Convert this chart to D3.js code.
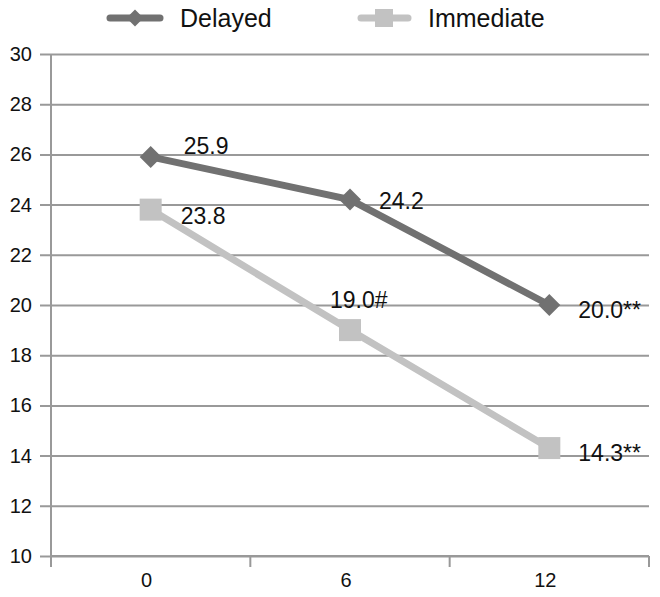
<!DOCTYPE html>
<html>
<head>
<meta charset="utf-8">
<script src="https://cdn.jsdelivr.net/npm/d3@7"></script>
<style>
  body { margin: 0; background: #fff; }
  text { font-family: "Liberation Sans", Arial, Helvetica, sans-serif; fill: #111; }
</style>
</head>
<body>
<svg id="chart"></svg>
<script>
// data
var months = ['0', '6', '12'];
var delayed = [25.9, 24.2, 20.0];
var immediate = [23.8, 19.0, 14.3];
var delayedLabels = ['25.9', '24.2', '20.0**'];
var immediateLabels = ['23.8', '19.0#', '14.3**'];
var yTicks = [10, 12, 14, 16, 18, 20, 22, 24, 26, 28, 30];

var darkGray = '#717171';
var lightGray = '#c2c2c2';
var gridColor = '#999999';

function drawChart() {
  var width = 660, height = 597;
  var chart = d3.select('#chart')
    .attr('width', width)
    .attr('height', height);

  var left = 51, right = 649, top = 54, bottom = 556;

  var x = d3.scaleBand()
    .domain(months)
    .range([left, right]);

  var y = d3.scaleLinear()
    .domain([10, 30])
    .range([bottom, top]);

  // horizontal grid + y ticks
  chart.append('g')
    .attr('transform', `translate(${left},0)`)
    .call(d3.axisLeft(y).tickValues(yTicks).tickSize(-(right - left)).tickSizeOuter(0))
    .call(g => g.select('.domain').remove())
    .call(g => g.selectAll('.tick line')
      .attr('x1', -11)
      .attr('stroke', gridColor)
      .attr('stroke-width', 2))
    .call(g => g.selectAll('.tick text')
      .attr('x', -19)
      .attr('fill', '#111')
      .style('font-size', '20px'));

  // y axis line
  chart.append('line')
    .attr('x1', left).attr('x2', left)
    .attr('y1', top).attr('y2', bottom + 11)
    .attr('stroke', gridColor)
    .attr('stroke-width', 2);

  // x axis
  var xAxis = chart.append('g')
    .attr('transform', `translate(0,${bottom})`);
  xAxis.append('line')
    .attr('x1', left).attr('x2', right)
    .attr('stroke', gridColor).attr('stroke-width', 2);
  var edges = months.map(m => x(m)).concat([right]);
  xAxis.selectAll('line.tk')
    .data(edges).enter()
    .append('line')
    .attr('class', 'tk')
    .attr('x1', d => d).attr('x2', d => d)
    .attr('y1', 0).attr('y2', 11)
    .attr('stroke', gridColor).attr('stroke-width', 2);
  xAxis.selectAll('text')
    .data(months).enter()
    .append('text')
    .attr('x', d => x(d) + x.bandwidth() / 2 - 4)
    .attr('y', 31)
    .attr('text-anchor', 'middle')
    .style('font-size', '20px')
    .text(d => d);

  var cx = d => x(d) + x.bandwidth() / 2;
  var line = d3.line()
    .x((d, i) => cx(months[i]))
    .y(d => y(d));

  // immediate series
  chart.append('path')
    .attr('d', line(immediate))
    .attr('fill', 'none')
    .attr('stroke', lightGray)
    .attr('stroke-width', 7);
  chart.selectAll('rect.imm')
    .data(immediate).enter()
    .append('rect')
    .attr('class', 'imm')
    .attr('x', (d, i) => cx(months[i]) - 11)
    .attr('y', d => y(d) - 11)
    .attr('width', 22).attr('height', 22)
    .attr('fill', lightGray);

  // delayed series
  chart.append('path')
    .attr('d', line(delayed))
    .attr('fill', 'none')
    .attr('stroke', darkGray)
    .attr('stroke-width', 7);
  chart.selectAll('path.del')
    .data(delayed).enter()
    .append('path')
    .attr('class', 'del')
    .attr('d', 'M0,-11 L11,0 L0,11 L-11,0 Z')
    .attr('fill', darkGray)
    .attr('transform', (d, i) => `translate(${cx(months[i])},${y(d)})`);

  // data labels
  var delOff = [[33, -3], [29, 9], [29, 13]];
  var immOff = [[30, 14], [-20, -22], [29, 13]];
  chart.selectAll('text.dl')
    .data(delayed).enter()
    .append('text')
    .attr('class', 'dl')
    .attr('x', (d, i) => cx(months[i]) + delOff[i][0])
    .attr('y', (d, i) => y(d) + delOff[i][1])
    .style('font-size', '23px')
    .text((d, i) => delayedLabels[i]);
  chart.selectAll('text.il')
    .data(immediate).enter()
    .append('text')
    .attr('class', 'il')
    .attr('x', (d, i) => cx(months[i]) + immOff[i][0])
    .attr('y', (d, i) => y(d) + immOff[i][1])
    .style('font-size', '23px')
    .text((d, i) => immediateLabels[i]);

  // legend
  var legend = chart.append('g').attr('transform', 'translate(0,18)');
  var d1 = legend.append('g').attr('transform', 'translate(110,0)');
  d1.append('line').attr('x1', 0).attr('x2', 50)
    .attr('stroke', darkGray).attr('stroke-width', 7).attr('stroke-linecap', 'round');
  d1.append('path').attr('d', 'M0,-8.5 L8.5,0 L0,8.5 L-8.5,0 Z')
    .attr('transform', 'translate(25,0)').attr('fill', darkGray);
  d1.append('text').attr('x', 70).attr('y', 9).style('font-size', '25px').text('Delayed');

  var d2 = legend.append('g').attr('transform', 'translate(359,0)');
  d2.append('line').attr('x1', 2).attr('x2', 49)
    .attr('stroke', lightGray).attr('stroke-width', 7).attr('stroke-linecap', 'round');
  d2.append('rect').attr('x', 16).attr('y', -9).attr('width', 18).attr('height', 18)
    .attr('fill', lightGray);
  d2.append('text').attr('x', 69).attr('y', 9).style('font-size', '25px').text('Immediate');
}

drawChart();
</script>
</body>
</html>
